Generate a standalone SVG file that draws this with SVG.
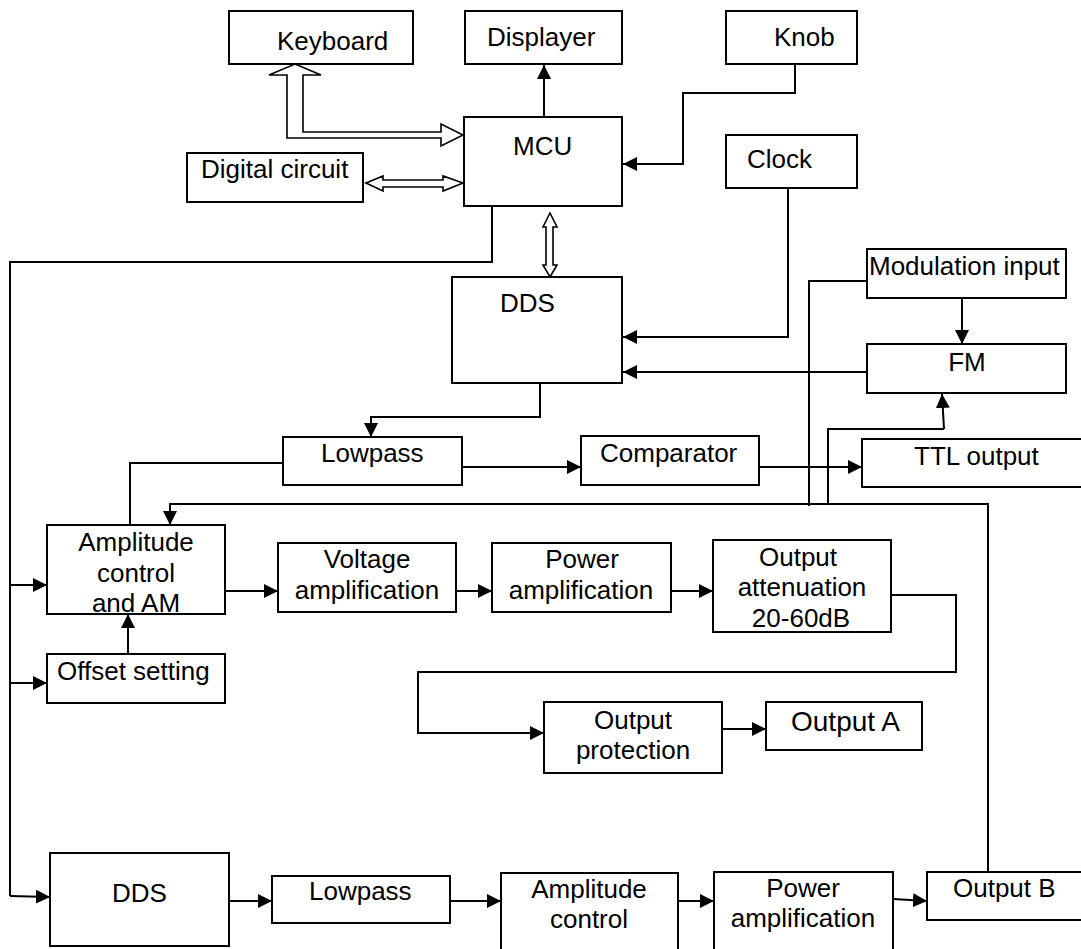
<svg xmlns="http://www.w3.org/2000/svg" width="1081" height="949" viewBox="0 0 1081 949">
<defs>
<marker id="arr" markerUnits="userSpaceOnUse" markerWidth="15" markerHeight="14" refX="14" refY="7" orient="auto" viewBox="0 0 15 14">
<path d="M0,0 L14,7 L0,14 z" fill="#000"/>
</marker>
</defs>
<style>
.box{fill:#fff;stroke:#000;stroke-width:2}
.t{font-family:"Liberation Sans",Arial,sans-serif;font-size:26px;fill:#000}
.c{text-anchor:middle}
.ln{fill:none;stroke:#000;stroke-width:2}
.ar{fill:none;stroke:#000;stroke-width:2;marker-end:url(#arr)}
.hol{fill:#fff;stroke:#000;stroke-width:1.6;stroke-linejoin:miter}
</style>
<rect width="1081" height="949" fill="#fff"/>

<g id="connectors">
<!-- Keyboard bus arrow -->
<path class="hol" d="M295,64 L321,75 L303,75 L303,132 L441,132 L441,124 L463,135 L441,146 L441,138 L287,138 L287,75 L269,75 Z"/>
<!-- Digital circuit double arrow -->
<path class="hol" d="M366,183 L383,176 L383,180 L443,180 L443,176 L463,183 L443,191 L443,187 L383,187 L383,191 Z"/>
<!-- MCU-DDS double arrow -->
<path class="hol" d="M550,213 L557,227 L553,227 L553,265 L557,265 L550,277 L543,265 L546,265 L546,227 L543,227 Z"/>
<!-- MCU -> Displayer -->
<path class="ar" d="M544,117 V65"/>
<!-- Knob -> MCU -->
<path class="ar" d="M795,64 V93 H683 V164 H623"/>
<!-- Clock -> DDS -->
<path class="ar" d="M788,188 V337 H623"/>
<!-- FM -> DDS -->
<path class="ar" d="M867,372 H623"/>
<!-- Modulation input -> FM -->
<path class="ar" d="M962,298 V344"/>
<!-- Modulation input line -->
<path class="ln" d="M867,281 H809 V506"/>
<!-- feed to FM -->
<path class="ln" d="M828,504 V429 H944"/>
<path class="ar" d="M944,429 L942,394"/>
<!-- MCU bus -->
<path class="ln" d="M492,206 V262 H10 V896"/>
<path class="ar" d="M10,585 H47"/>
<path class="ar" d="M10,683 H47"/>
<path class="ar" d="M10,896 L50,897"/>
<!-- DDS -> Lowpass -->
<path class="ar" d="M540,383 V417 H371 V437"/>
<!-- Lowpass -> Amplitude -->
<path class="ln" d="M283,463 H130 V525"/>
<!-- Lowpass -> Comparator -->
<path class="ar" d="M462,467 H581"/>
<!-- Comparator -> TTL -->
<path class="ar" d="M759,467 H862"/>
<!-- Feedback from Output B -->
<path class="ar" d="M988,872 V504 H170 V525"/>
<!-- middle chain -->
<path class="ar" d="M225,591 H278"/>
<path class="ar" d="M456,591 H492"/>
<path class="ar" d="M671,591 H713"/>
<path class="ar" d="M128,654 V614"/>
<path class="ar" d="M891,595 H956 V672 H418 V733 H544"/>
<path class="ar" d="M722,729 H766"/>
<!-- bottom chain -->
<path class="ar" d="M229,901 H272"/>
<path class="ar" d="M450,901 H501"/>
<path class="ar" d="M678,901 H714"/>
<path class="ar" d="M893,899 L927,901"/>
</g>

<g id="keyboard"><rect class="box" x="229" y="11" width="184" height="53"/><text class="t" x="277" y="50">Keyboard</text></g>
<g id="displayer"><rect class="box" x="465" y="11" width="157" height="53"/><text class="t" x="487" y="46">Displayer</text></g>
<g id="knob"><rect class="box" x="726" y="11" width="131" height="53"/><text class="t" x="774" y="46">Knob</text></g>
<g id="mcu"><rect class="box" x="464" y="117" width="158" height="89"/><text class="t" x="513" y="155">MCU</text></g>
<g id="digital"><rect class="box" x="187" y="153" width="176" height="49"/><text class="t" x="201" y="178">Digital circuit</text></g>
<g id="clock"><rect class="box" x="726" y="135" width="131" height="53"/><text class="t" x="747" y="168">Clock</text></g>
<g id="modin"><rect class="box" x="867" y="249" width="199" height="49"/><text class="t" x="869" y="275">Modulation input</text></g>
<g id="dds1"><rect class="box" x="452" y="277" width="170" height="106"/><text class="t" x="500" y="312">DDS</text></g>
<g id="fm"><rect class="box" x="867" y="344" width="199" height="49"/><text class="t c" x="967" y="371">FM</text></g>
<g id="lowpass1"><rect class="box" x="283" y="437" width="179" height="48"/><text class="t" x="321" y="462">Lowpass</text></g>
<g id="comparator"><rect class="box" x="581" y="436" width="178" height="49"/><text class="t" x="600" y="462">Comparator</text></g>
<g id="ttl"><rect class="box" x="862" y="439" width="230" height="48"/><text class="t" x="914" y="465">TTL output</text></g>
<g id="ampam"><rect class="box" x="47" y="525" width="178" height="89"/><text class="t c" x="136" y="551">Amplitude</text><text class="t c" x="136" y="582">control</text><text class="t c" x="136" y="612">and AM</text></g>
<g id="voltamp"><rect class="box" x="278" y="543" width="178" height="69"/><text class="t c" x="367" y="568">Voltage</text><text class="t c" x="367" y="599">amplification</text></g>
<g id="powamp1"><rect class="box" x="492" y="543" width="179" height="69"/><text class="t c" x="582" y="568">Power</text><text class="t c" x="581" y="599">amplification</text></g>
<g id="outatt"><rect class="box" x="713" y="540" width="178" height="92"/><text class="t c" x="798" y="566">Output</text><text class="t c" x="802" y="596">attenuation</text><text class="t c" x="801" y="627">20-60dB</text></g>
<g id="offset"><rect class="box" x="47" y="654" width="178" height="49"/><text class="t" x="57" y="680">Offset setting</text></g>
<g id="outprot"><rect class="box" x="544" y="702" width="178" height="71"/><text class="t c" x="633" y="729">Output</text><text class="t c" x="633" y="759">protection</text></g>
<g id="outa"><rect class="box" x="766" y="702" width="156" height="48"/><text class="t" x="791" y="731" style="font-size:28px">Output A</text></g>
<g id="dds2"><rect class="box" x="50" y="853" width="179" height="93"/><text class="t" x="112" y="902">DDS</text></g>
<g id="lowpass2"><rect class="box" x="272" y="876" width="178" height="47"/><text class="t" x="309" y="900">Lowpass</text></g>
<g id="ampctl"><rect class="box" x="501" y="873" width="177" height="90"/><text class="t c" x="589" y="898">Amplitude</text><text class="t c" x="589" y="928">control</text></g>
<g id="powamp2"><rect class="box" x="714" y="872" width="179" height="90"/><text class="t c" x="803" y="897">Power</text><text class="t c" x="803" y="927">amplification</text></g>
<g id="outb"><rect class="box" x="927" y="872" width="170" height="48"/><text class="t" x="953" y="897">Output B</text></g>
</svg>
